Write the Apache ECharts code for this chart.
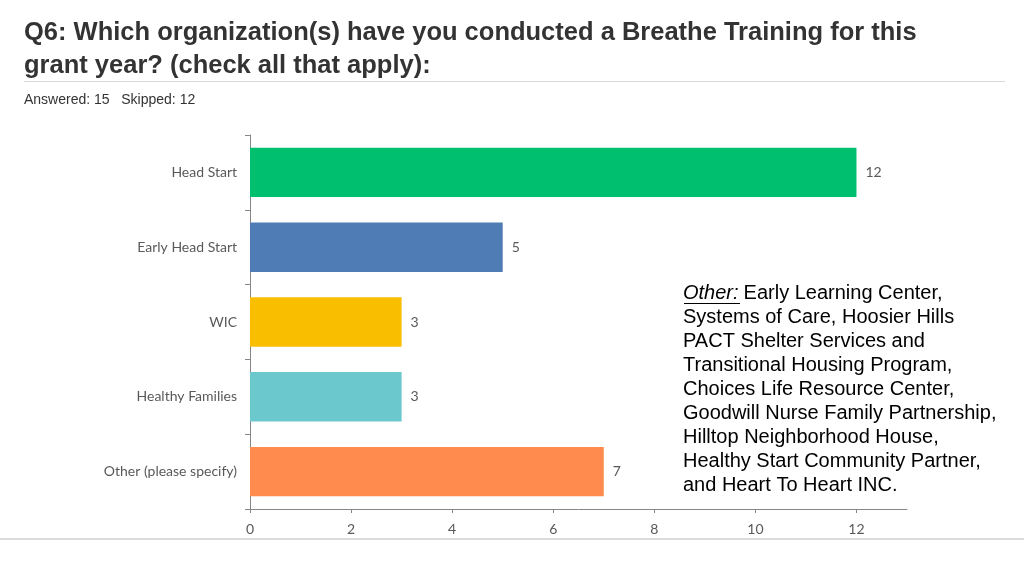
<!DOCTYPE html>
<html>
<head>
<meta charset="utf-8">
<script src="https://cdn.jsdelivr.net/npm/echarts@6/dist/echarts.min.js"></script>
<style>html,body{margin:0;padding:0;background:#fff;}#c{width:1024px;height:576px;}</style>
</head>
<body>
<div id="c"></div>
<script>
const categories = ['Head Start', 'Early Head Start', 'WIC', 'Healthy Families', 'Other (please specify)'];
const values = [12, 5, 3, 3, 7];
const barColors = ['#00BF6F', '#507CB6', '#F9BE00', '#6BC8CD', '#FF8B4F'];
const xTicks = [0, 2, 4, 6, 8, 10, 12];
const titleLines = ['Q6: Which organization(s) have you conducted a Breathe Training for this', 'grant year? (check all that apply):'];
const subtitle = 'Answered: 15   Skipped: 12';
const otherLines = [
  'Early Learning Center,',
  'Systems of Care, Hoosier Hills',
  'PACT Shelter Services and',
  'Transitional Housing Program,',
  'Choices Life Resource Center,',
  'Goodwill Nurse Family Partnership,',
  'Hilltop Neighborhood House,',
  'Healthy Start Community Partner,',
  'and Heart To Heart INC.'
];

const chart = echarts.init(document.getElementById('c'));
const graphics = [
  { type: 'text', left: 24, top: 16, style: { text: titleLines.join('\n'), font: 'bold 25.5px "Liberation Sans", Arial, sans-serif', fill: '#333333', lineHeight: 33 } },
  { type: 'line', shape: { x1: 24, y1: 81.5, x2: 1005, y2: 81.5 }, style: { stroke: '#d9d9d9', lineWidth: 1 } },
  { type: 'text', left: 24, top: 93, style: { text: subtitle, font: '14px "Liberation Sans", Arial, sans-serif', fill: '#333333' } },
  { type: 'line', shape: { x1: 0, y1: 539, x2: 1024, y2: 539 }, style: { stroke: '#dadada', lineWidth: 2 } },
  { type: 'text', left: 683, top: 281, style: {
      text: '{i|Other:}' + otherLines[0] + '\n' + otherLines.slice(1).join('\n'),
      font: '20px "Liberation Sans", Arial, sans-serif', fill: '#000', lineHeight: 24,
      rich: { i: { font: 'italic 20px "Liberation Sans", Arial, sans-serif', fill: '#000', padding: [0, 5, 0, 0] } }
  } },
  { type: 'line', shape: { x1: 684, y1: 303.5, x2: 740, y2: 303.5 }, style: { stroke: '#000', lineWidth: 1 } }
];

chart.setOption({
  animation: false,
  grid: { left: 250, right: 117, top: 135, bottom: 67, containLabel: false },
  xAxis: {
    type: 'value', min: 0, max: 13, interval: 2,
    splitLine: { show: false },
    axisLine: { show: true, lineStyle: { color: '#868686' } },
    axisTick: { show: true, length: 4, lineStyle: { color: '#868686' }, customValues: xTicks },
    axisLabel: { customValues: xTicks, color: '#595959', fontSize: 14, fontFamily: 'Lato, sans-serif', margin: 13 }
  },
  yAxis: {
    type: 'category', data: categories, inverse: true,
    axisLine: { show: true, lineStyle: { color: '#868686' } },
    axisTick: { show: true, length: 5, lineStyle: { color: '#868686' } },
    axisLabel: { color: '#595959', fontSize: 14, fontFamily: 'Lato, sans-serif', margin: 13 }
  },
  series: [{
    type: 'bar', barWidth: '66%',
    data: values.map((v, i) => ({ value: v, itemStyle: { color: barColors[i] } })),
    label: { show: true, position: 'right', distance: 9, color: '#595959', fontSize: 14, fontFamily: 'Lato, sans-serif' }
  }],
  graphic: graphics
});
</script>
</body>
</html>
